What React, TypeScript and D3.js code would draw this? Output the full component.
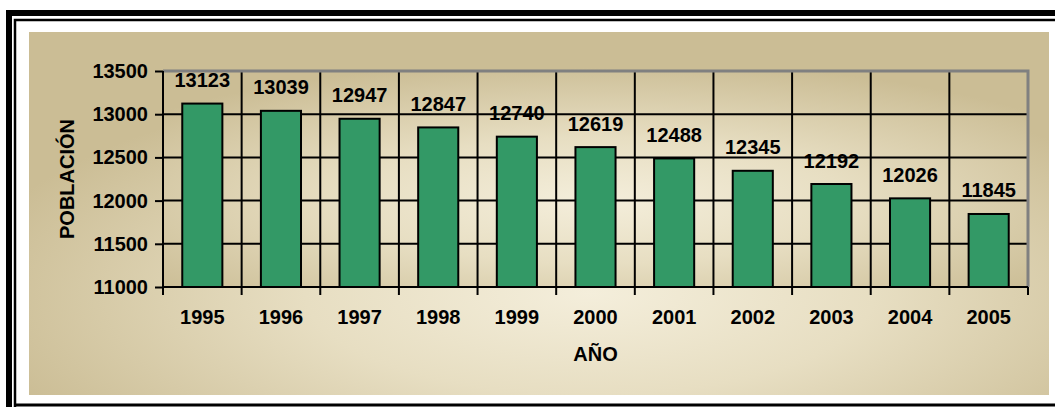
import * as d3 from "d3";
import { useEffect, useRef } from "react";

const years = ["1995", "1996", "1997", "1998", "1999", "2000", "2001", "2002", "2003", "2004", "2005"];
const population = [13123, 13039, 12947, 12847, 12740, 12619, 12488, 12345, 12192, 12026, 11845];
const yTicks = [11000, 11500, 12000, 12500, 13000, 13500];

const W = 1055;
const H = 407;
const font = "'Liberation Sans', Arial, sans-serif";
const fs = 20;

const App = () => {
    const ref = useRef<SVGSVGElement>(null);

    useEffect(() => {
        const svg = d3.select(ref.current);
        svg.selectAll("*").remove();

        const defs = svg.append("defs");
        const grad = (id: string, cx: string, cy: string, r: string) => {
            const g = defs.append("radialGradient").attr("id", id)
                .attr("cx", cx).attr("cy", cy).attr("r", r);
            g.append("stop").attr("offset", "0%").attr("stop-color", "#f4eedb");
            g.append("stop").attr("offset", "45%").attr("stop-color", "#e7dec2");
            g.append("stop").attr("offset", "100%").attr("stop-color", "#cbbd95");
        };
        grad("bgGrad", "55%", "72%", "62%");
        grad("plotGrad", "50%", "60%", "65%");

        // rahmen (rechts und unten abgeschnitten)
        svg.append("rect").attr("width", W).attr("height", H).attr("fill", "#fff");
        svg.append("path").attr("d", `M9,${H}V13H${W}`)
            .attr("fill", "none").attr("stroke", "#000").attr("stroke-width", 6);
        svg.append("path").attr("d", `M15,${H}V20H${W}`)
            .attr("fill", "none").attr("stroke", "#000").attr("stroke-width", 2.5);
        svg.append("line").attr("x1", 15).attr("x2", W).attr("y1", 405).attr("y2", 405)
            .attr("stroke", "#000").attr("stroke-width", 3);

        // chart area
        svg.append("rect").attr("x", 29).attr("y", 32).attr("width", 1020).attr("height", 363)
            .attr("fill", "url(#bgGrad)");

        const m = { left: 163, top: 71, right: 1028, bottom: 287 };

        const x = d3.scaleBand().domain(years).range([m.left, m.right]);
        const y = d3.scaleLinear().domain([11000, 13500]).range([m.bottom, m.top]);

        svg.append("rect").attr("x", m.left).attr("y", m.top)
            .attr("width", m.right - m.left).attr("height", m.bottom - m.top)
            .attr("fill", "url(#plotGrad)");

        // grid
        const grid = svg.append("g").attr("stroke", "#000").attr("stroke-width", 2);
        yTicks.slice(1, -1).forEach(t => {
            grid.append("line").attr("x1", m.left).attr("x2", m.right)
                .attr("y1", y(t)).attr("y2", y(t));
        });
        years.slice(1).forEach(yr => {
            grid.append("line").attr("x1", x(yr)!).attr("x2", x(yr)!)
                .attr("y1", m.top).attr("y2", m.bottom);
        });

        // plot border top / right
        svg.append("path")
            .attr("d", `M${m.left},${m.top}H${m.right}V${m.bottom}`)
            .attr("fill", "none").attr("stroke", "#808080").attr("stroke-width", 3);

        // bars
        const bw = x.bandwidth() * 0.51;
        svg.append("g").selectAll("rect")
            .data(population)
            .enter()
            .append("rect")
            .attr("x", (d, i) => x(years[i])! + (x.bandwidth() - bw) / 2)
            .attr("y", d => y(d))
            .attr("width", bw)
            .attr("height", d => m.bottom - y(d))
            .attr("fill", "#339966")
            .attr("stroke", "#000")
            .attr("stroke-width", 2);

        // labels
        svg.append("g").selectAll("text")
            .data(population)
            .enter()
            .append("text")
            .attr("x", (d, i) => x(years[i])! + x.bandwidth() / 2)
            .attr("y", d => y(d) - 16.5)
            .attr("text-anchor", "middle")
            .attr("font-family", font).attr("font-weight", "bold").attr("font-size", fs)
            .text(d => d);

        // axes
        const yAxis = svg.append("g").attr("transform", `translate(${m.left},0)`)
            .call(d3.axisLeft(y).tickValues(yTicks).tickSize(8).tickPadding(7).tickFormat(d3.format("d")));
        yAxis.select(".domain").attr("stroke-width", 2).attr("d", `M0,${m.top}V${m.bottom}`);
        yAxis.selectAll(".tick line").attr("stroke-width", 2);
        yAxis.selectAll("text").attr("font-family", font).attr("font-weight", "bold")
            .attr("font-size", fs).attr("fill", "#000");

        const xAxis = svg.append("g").attr("transform", `translate(0,${m.bottom})`)
            .call(d3.axisBottom(x).tickSize(0).tickPadding(23));
        xAxis.select(".domain").attr("stroke-width", 2).attr("d", `M${m.left},0H${m.right}`);
        xAxis.selectAll("text").attr("font-family", font).attr("font-weight", "bold")
            .attr("font-size", fs).attr("fill", "#000");
        // tick marks on category borders
        [...years.map(yr => x(yr)!), m.right].forEach(px => {
            xAxis.append("line").attr("x1", px).attr("x2", px).attr("y1", 0).attr("y2", 8)
                .attr("stroke", "#000").attr("stroke-width", 2);
        });

        // titles
        svg.append("text")
            .attr("x", (m.left + m.right) / 2).attr("y", 361)
            .attr("text-anchor", "middle")
            .attr("font-family", font).attr("font-weight", "bold").attr("font-size", fs)
            .text("AÑO");
        svg.append("text")
            .attr("transform", `translate(74,${(m.top + m.bottom) / 2}) rotate(-90)`)
            .attr("text-anchor", "middle")
            .attr("font-family", font).attr("font-weight", "bold").attr("font-size", fs)
            .text("POBLACIÓN");
    }, []);

    return (
        <svg ref={ref} width={W} height={H}
            style={{ position: "absolute", left: 0, top: 0, display: "block" }}></svg>
    );
};

export default App;
